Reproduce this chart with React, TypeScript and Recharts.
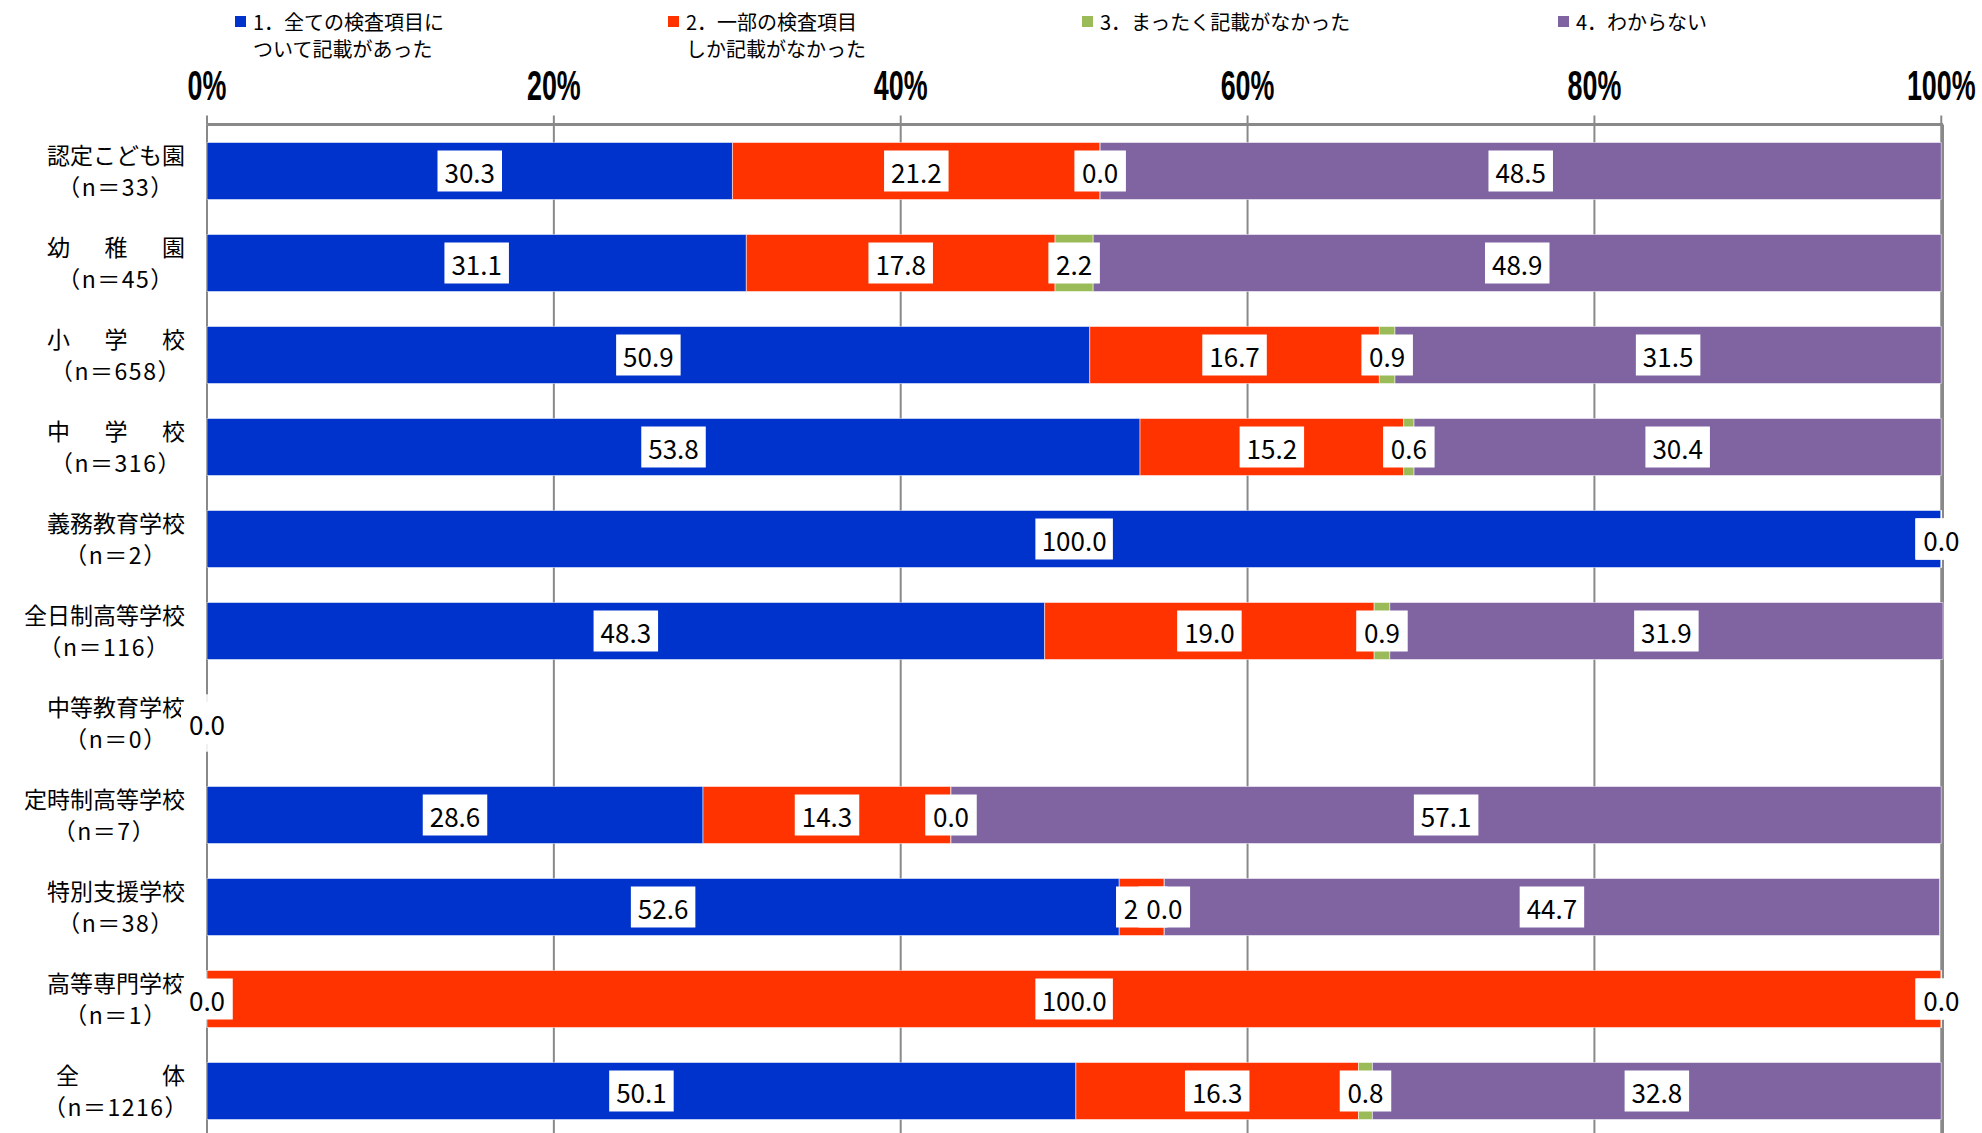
import React from 'react';
import { BarChart, Bar, XAxis, YAxis, CartesianGrid, LabelList } from 'recharts';

const categories = ['認定こども園', '幼稚園', '小学校', '中学校', '義務教育学校', '全日制高等学校', '中等教育学校', '定時制高等学校', '特別支援学校', '高等専門学校', '全体'];
const nCounts = [33, 45, 658, 316, 2, 116, 0, 7, 38, 1, 1216];
const allDescribed = [30.3, 31.1, 50.9, 53.8, 100.0, 48.3, 0.0, 28.6, 52.6, 0.0, 50.1];
const partDescribed = [21.2, 17.8, 16.7, 15.2, 0.0, 19.0, 0.0, 14.3, 2.6, 100.0, 16.3];
const noneDescribed = [0.0, 2.2, 0.9, 0.6, 0.0, 0.9, 0.0, 0.0, 0.0, 0.0, 0.8];
const unknown = [48.5, 48.9, 31.5, 30.4, 0.0, 31.9, 0.0, 57.1, 44.7, 0.0, 32.8];
const xTicks = [0, 20, 40, 60, 80, 100];

const seriesKeys = ['s1', 's2', 's3', 's4'];
const seriesNames = ['1．全ての検査項目に\nついて記載があった', '2．一部の検査項目\nしか記載がなかった', '3．まったく記載がなかった', '4．わからない'];
const seriesColors = ['#0033CC', '#FF3300', '#9BBB59', '#8064A2'];

const data = categories.map((name, i) => ({
  name,
  n: nCounts[i],
  s1: allDescribed[i],
  s2: partDescribed[i],
  s3: noneDescribed[i],
  s4: unknown[i],
}));

const JP = '"Noto Sans CJK JP", "Noto Sans", sans-serif';
const GRAY = '#898989';

const XTick = (props: any) => {
  const { x, payload } = props;
  return (
    <text
      transform={`translate(${x},100) scale(0.64,1)`}
      textAnchor="middle"
      fontFamily='"Liberation Sans", Arial, sans-serif'
      fontWeight="bold"
      fontSize={42}
      fill="#000"
    >
      {payload.value}%
    </text>
  );
};

const YTick = (props: any) => {
  const { y, payload, index } = props;
  const name: string = String(payload.value);
  const idx = typeof index === 'number' ? index : categories.indexOf(name);
  const n = nCounts[categories.indexOf(name)] ?? nCounts[idx];
  const fs = 23;
  const right = 185;
  const len = name.length;
  const lineW = Math.max(len, 6) * fs;
  const c2 = right - lineW / 2;
  let line1: React.ReactNode;
  if (len < 6) {
    const span = len === 2 ? 129 : 138;
    const left = right - span;
    const step = (span - fs) / (len - 1);
    line1 = name.split('').map((ch, k) => (
      <text key={k} x={left + k * step + fs / 2} y={y - 16.5} textAnchor="middle" dominantBaseline="central" fontFamily={JP} fontSize={fs} fill="#000">
        {ch}
      </text>
    ));
  } else {
    line1 = (
      <text x={right} y={y - 16.5} textAnchor="end" dominantBaseline="central" fontFamily={JP} fontSize={fs} fill="#000">
        {name}
      </text>
    );
  }
  return (
    <g>
      {line1}
      <text x={c2} y={y + 15} textAnchor="middle" dominantBaseline="central" fontFamily={JP} fontSize={fs} letterSpacing={1.5} fill="#000">
        {`（n＝${n}）`}
      </text>
    </g>
  );
};

const BoxLabel = (props: any) => {
  const { x, y, width, height, value } = props;
  if (value === undefined || value === null) return null;
  const txt = Number(value).toFixed(1);
  const fs = 26;
  const tw = txt.split('').reduce((s, ch) => s + (ch === '.' ? 0.25 : 0.5) * fs, 0);
  const bw = tw + 19;
  const bh = 41;
  const cx = Number(x) + Number(width) / 2;
  const cy = Number(y) + Number(height) / 2;
  return (
    <g>
      <rect x={cx - bw / 2} y={cy - bh / 2} width={bw} height={bh} fill="#fff" />
      <text x={cx} y={cy} textAnchor="middle" dominantBaseline="central" fontFamily={JP} fontSize={fs} fill="#000">
        {txt}
      </text>
    </g>
  );
};

const legendPos = [253, 686, 1100, 1576];

export default function App() {
  return (
    <div style={{ position: 'fixed', left: 0, top: 0, width: 1982, height: 1133, overflow: 'hidden', background: '#fff' }}>
      <BarChart
        width={1982}
        height={1140}
        data={data}
        layout="vertical"
        margin={{ top: 0, right: 39, bottom: 3.5, left: 0 }}
        barSize={57}
      >
        <CartesianGrid horizontal={false} vertical={true} stroke={GRAY} strokeWidth={2} />
        <XAxis
          type="number"
          orientation="top"
          domain={[0, 100]}
          ticks={xTicks}
          interval={0}
          height={124.5}
          tickSize={9}
          tickLine={{ stroke: GRAY, strokeWidth: 2 }}
          axisLine={{ stroke: GRAY, strokeWidth: 3 }}
          tick={<XTick />}
        />
        <YAxis
          type="category"
          dataKey="name"
          width={207}
          axisLine={false}
          tickLine={false}
          interval={0}
          tick={<YTick />}
        />
        {seriesKeys.map((k, i) => (
          <Bar
            key={k}
            dataKey={k}
            name={seriesNames[i]}
            stackId="a"
            fill={seriesColors[i]}
            stroke="#ffffff"
            strokeOpacity={0.5}
            strokeWidth={1}
            minPointSize={0.01}
            isAnimationActive={false}
          >
            <LabelList dataKey={k} content={<BoxLabel />} />
          </Bar>
        ))}
      </BarChart>
      {seriesNames.map((nm, i) => (
        <div key={i} style={{ position: 'absolute', left: legendPos[i] - 18, top: 7.5 }}>
          <div style={{ position: 'absolute', left: 0, top: 8.5, width: 11, height: 11, background: seriesColors[i] }} />
          <div
            style={{
              position: 'absolute',
              left: 18,
              top: 0,
              whiteSpace: 'pre',
              fontFamily: JP,
              fontSize: 20,
              lineHeight: '27px',
              color: '#000',
            }}
          >
            {nm}
          </div>
        </div>
      ))}
    </div>
  );
}
